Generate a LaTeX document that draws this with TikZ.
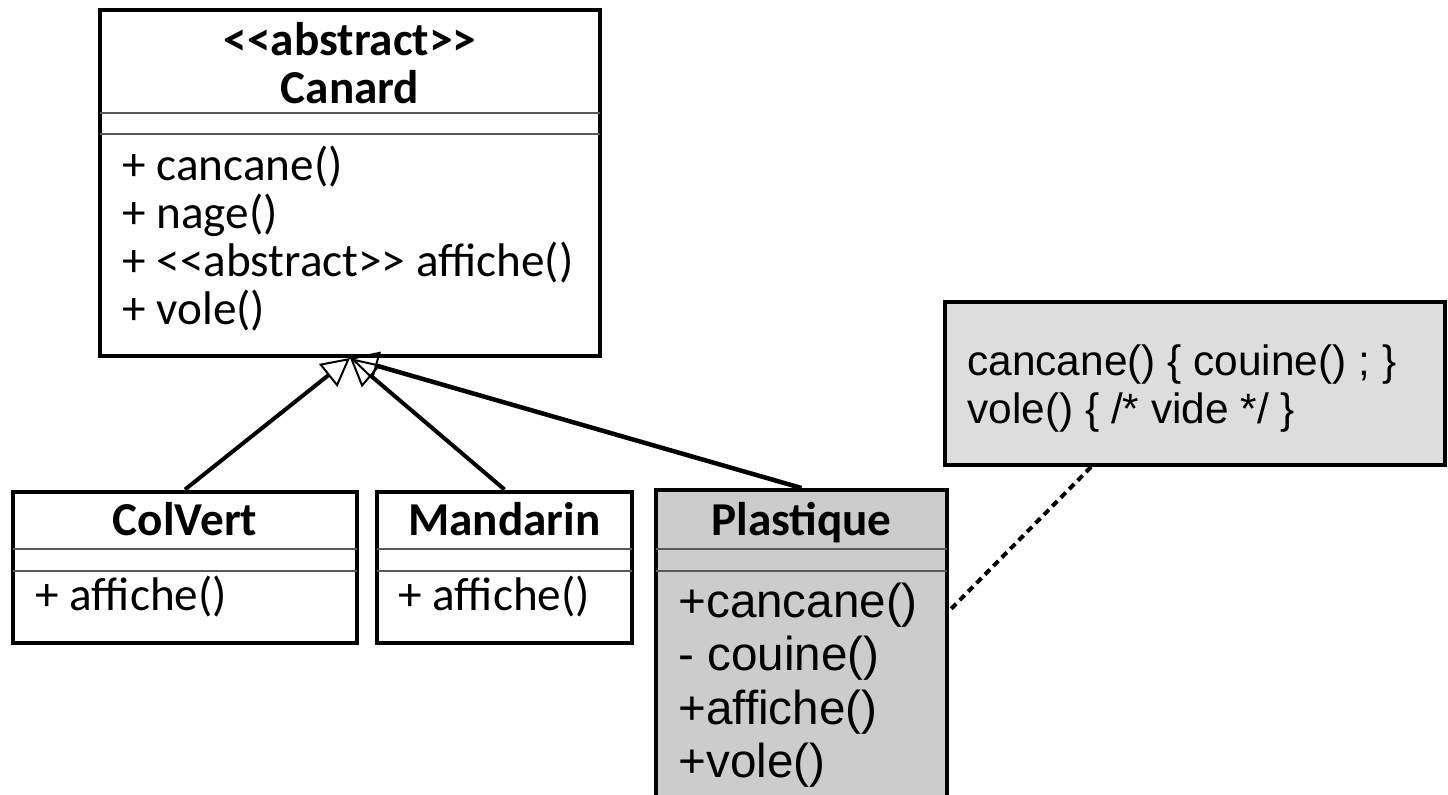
\documentclass[tikz,border=0pt]{standalone}
\usepackage{fontspec}
\setmainfont{Carlito}[Ligatures=TeXOff]
\newfontfamily\arialf{Liberation Sans}[Ligatures=TeXOff]
\usetikzlibrary{arrows.meta}
\definecolor{plasgray}{HTML}{CCCCCC}
\definecolor{notegray}{HTML}{DDDDDD}
\tikzset{
  cls/.style={draw, line width=2pt, fill=white, inner sep=0pt},
  lbl/.style={inner sep=0pt, anchor=base west, font=\fontsize{23.6}{24}\selectfont},
  ttl/.style={inner sep=0pt, anchor=base, font=\bfseries\fontsize{23.6}{24}\selectfont},
  plbl/.style={inner sep=0pt, anchor=base west, font=\arialf\fontsize{23.8}{27}\selectfont},
  nlbl/.style={inner sep=0pt, anchor=base west, font=\arialf\fontsize{21.2}{24}\selectfont},
  sepline/.style={line width=0.8pt, draw=black!65},
  gen/.style={line width=2pt, -{Triangle[open, length=14pt, width=14.5pt, line width=1pt]}},
  notelink/.style={line width=2pt, dash pattern=on 3.5pt off 2.5pt},
}
\begin{document}
\begin{tikzpicture}[x=0.5pt,y=-0.5pt]
\clip (0,0) rectangle (1448,794);
\fill[white] (0,0) rectangle (1448,794);

% Canard
\node[cls, minimum width=250pt, minimum height=173pt] (canard) at (350,183) {};
\draw[sepline] (100,113) -- (600,113);
\draw[sepline] (100,134) -- (600,134);
\node[ttl] (canardst) at (350,55) {<<abstract>>};
\node[ttl] (canardt) at (350,103) {Canard};
\node[lbl] (cm1) at (122,180) {+ cancane()};
\node[lbl] (cm2) at (122,228) {+ nage()};
\node[lbl] (cm3) at (122,276) {+ <<abstract>> affiche()};
\node[lbl] (cm4) at (122,324) {+ vole()};

% ColVert
\node[cls, minimum width=172pt, minimum height=75.5pt] (colvert) at (185,567) {};
\draw[sepline] (13,549) -- (357,549);
\draw[sepline] (13,571) -- (357,571);
\node[ttl] (colvertt) at (185,535) {ColVert};
\node[lbl] (cvm1) at (35,610) {+ affiche()};

% Mandarin
\node[cls, minimum width=127.5pt, minimum height=75.5pt] (mandarin) at (504.5,567) {};
\draw[sepline] (377,549) -- (632,549);
\draw[sepline] (377,571) -- (632,571);
\node[ttl] (mandarint) at (504.5,535) {Mandarin};
\node[lbl] (mdm1) at (398,610) {+ affiche()};

% Plastique
\node[cls, fill=plasgray, minimum width=145.5pt, minimum height=160pt] (plastique) at (801.5,650) {};
\draw[sepline] (656,549) -- (947,549);
\draw[sepline] (656,571) -- (947,571);
\node[ttl] (plastiquet) at (801.5,535) {Plastique};
\node[plbl] (pm1) at (678,617) {+cancane()};
\node[plbl] (pm2) at (678,670.5) {- couine()};
\node[plbl] (pm3) at (678,724) {+affiche()};
\node[plbl] (pm4) at (678,777.5) {+vole()};

% Note
\node[cls, fill=notegray, minimum width=250pt, minimum height=81.5pt] (note) at (1195,383.5) {};
\node[nlbl] (n1) at (967,375) {cancane() \{ couine() ; \}};
\node[nlbl] (n2) at (967,423) {vole() \{ /* vide */ \}};

% Connectors
\draw[gen] (colvert.north) -- (canard.south);
\draw[gen] (mandarin.north) -- (canard.south);
\draw[gen, line width=2.25pt] (plastique.north) -- (canard.south);
\draw[notelink] ([xshift=74pt]note.south west) -- ([yshift=-61.5pt]plastique.north east);
\end{tikzpicture}
\end{document}
